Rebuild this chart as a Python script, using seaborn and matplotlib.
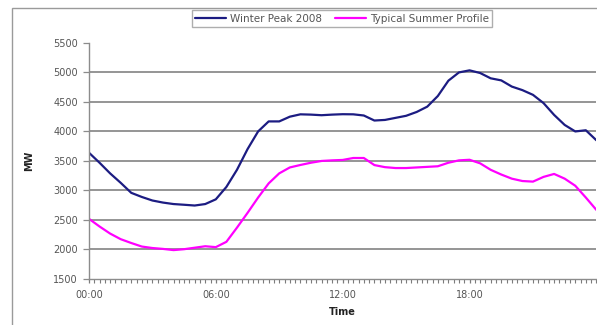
import numpy as np
import pandas as pd
import matplotlib
matplotlib.use("Agg")
import matplotlib.pyplot as plt
from matplotlib.patches import Rectangle
from matplotlib.ticker import MultipleLocator
import seaborn as sns

# Half-hourly demand, 00:00 through 24:00 (MW)
times = [f"{h:02d}:{m:02d}" for h in range(25) for m in (0, 30)][:49]
winter_peak_2008 = [
    3640, 3470, 3290, 3130, 2960, 2890, 2830, 2795, 2770, 2758,
    2745, 2770, 2850, 3060, 3350, 3700, 4000, 4170, 4170, 4250,
    4290, 4285, 4275, 4285, 4292, 4290, 4270, 4185, 4195, 4230,
    4265, 4330, 4420, 4600, 4860, 5000, 5035, 4990, 4900, 4865,
    4760, 4700, 4620, 4480, 4280, 4110, 4000, 4020, 3850,
]
typical_summer = [
    2520, 2390, 2270, 2175, 2110, 2050, 2025, 2010, 1990, 2005,
    2030, 2055, 2040, 2130, 2370, 2620, 2880, 3120, 3290, 3390,
    3432, 3470, 3500, 3510, 3517, 3550, 3550, 3430, 3395, 3380,
    3380, 3390, 3400, 3410, 3470, 3510, 3520, 3460, 3350, 3270,
    3200, 3160, 3150, 3230, 3280, 3200, 3080, 2880, 2670,
]
series_names = ["Winter Peak 2008", "Typical Summer Profile"]
series_colors = ["#1c1c82", "#ff00ff"]
x_tick_labels = ["00:00", "06:00", "12:00", "18:00"]
y_ticks = [1500, 2000, 2500, 3000, 3500, 4000, 4500, 5000, 5500]

df = pd.concat([
    pd.DataFrame({"idx": np.arange(len(times)), "Time": times,
                  "MW": winter_peak_2008, "series": series_names[0]}),
    pd.DataFrame({"idx": np.arange(len(times)), "Time": times,
                  "MW": typical_summer, "series": series_names[1]}),
])

sns.set_theme(style="white")
plt.rcParams["font.family"] = ["DejaVu Sans"]

fig = plt.figure(figsize=(5.97, 3.25), dpi=100)
ax = fig.add_axes([0.149, 0.1415, 0.850, 0.7265])

# outer chart frame
fig.patches.append(Rectangle((12 / 597, -0.05), 1.0, 1 - 8 / 325 + 0.05,
                             transform=fig.transFigure, fill=False,
                             edgecolor="#9a9a9a", linewidth=1.0))

sns.lineplot(data=df, x="idx", y="MW", hue="series", palette=series_colors,
             hue_order=series_names, linewidth=1.6, ax=ax, legend=False)

ax.set_xlim(0, 48)
ax.set_ylim(1500, 5500)
ax.set_yticks(y_ticks)
ax.set_yticklabels([str(v) for v in y_ticks])
ax.set_xticks([0, 12, 24, 36])
ax.set_xticklabels(x_tick_labels)
ax.xaxis.set_minor_locator(MultipleLocator(0.5))

for v in y_ticks[1:-1]:
    ax.axhline(v, color="#8c8c8c", linewidth=1.3, zorder=0)

for s in ("top", "right"):
    ax.spines[s].set_visible(False)
for s in ("left", "bottom"):
    ax.spines[s].set_color("#8c8c8c")
    ax.spines[s].set_linewidth(1.0)

ax.tick_params(axis="y", which="major", direction="out", length=4, width=0.9,
               color="#8c8c8c", labelsize=7, labelcolor="#555555", pad=4, left=True)
ax.tick_params(axis="x", which="major", direction="out", length=3, width=0.9,
               color="#7c7c7c", labelsize=7, labelcolor="#555555", pad=5, bottom=True)
ax.tick_params(axis="x", which="minor", direction="out", length=3, width=0.8,
               color="#7c7c7c", bottom=True)

ax.set_xlabel("Time", fontsize=7, fontweight="bold", color="#222222", labelpad=5)
ax.set_ylabel("MW", fontsize=7, fontweight="bold", color="#222222", labelpad=14)

handles = [plt.Line2D([], [], color=c, linewidth=1.6) for c in series_colors]
leg = fig.legend(handles, series_names, loc="center", ncol=2,
                 bbox_to_anchor=(342 / 597, 1 - 18.5 / 325), fontsize=7.5,
                 frameon=True, fancybox=False, edgecolor="#9a9a9a",
                 handlelength=3.0, handletextpad=0.4, columnspacing=1.2,
                 borderpad=0.3)
leg.get_frame().set_linewidth(1.0)
for t in leg.get_texts():
    t.set_color("#555555")

fig.savefig("out.png", dpi=100, facecolor="white")
